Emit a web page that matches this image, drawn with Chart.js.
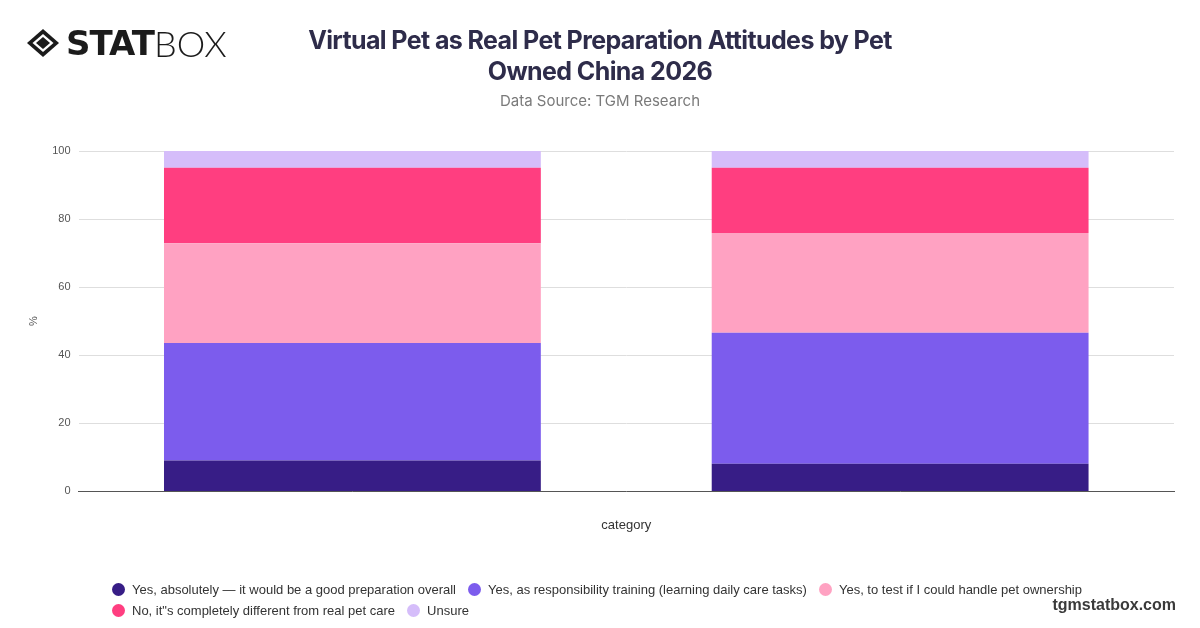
<!DOCTYPE html>
<html>
<head>
<meta charset="utf-8">
<script src="https://cdn.jsdelivr.net/npm/chart.js@4"></script>
<style>
  html, body { margin: 0; padding: 0; background: #fff; }
  #wrap { position: relative; width: 1200px; height: 628px; overflow: hidden; font-family: "Liberation Sans", Arial, sans-serif; }
  #chart { position: absolute; left: 0; top: 0; }
  .logo { position: absolute; left: 26px; top: 21px; display: flex; align-items: center; }
  .logo .stat { font-family: "DejaVu Sans", sans-serif; font-weight: 900; font-size: 34px; letter-spacing: -1px; color: #1b1b1b; margin-left: 6px; }
  .logo .box { font-family: Lato, sans-serif; font-weight: 300; font-size: 36px; color: #1b1b1b; }
  .title { position: absolute; left: 0; width: 1200px; top: 25px; text-align: center; font-family: Inter, sans-serif; font-weight: 700; font-size: 25px; line-height: 31px; color: #2e2c4a; letter-spacing: -0.6px; }
  .subtitle { position: absolute; left: 0; width: 1200px; top: 91px; text-align: center; font-family: Inter, sans-serif; font-size: 15px; color: #7a7a7a; }
  #legend { position: absolute; left: 112px; top: 579px; width: 1060px; font-size: 13px; color: #333; white-space: nowrap; }
  #legend .item { display: inline-flex; align-items: center; margin-right: 12px; height: 21px; }
  #legend .dot { width: 13px; height: 13px; border-radius: 50%; margin-right: 7px; }
  .brand { position: absolute; right: 24px; top: 596px; font-family: "Liberation Sans", Arial, sans-serif; font-weight: 700; font-size: 16px; color: #3a3a3a; }
</style>
</head>
<body>
<div id="wrap">
  <canvas id="chart" width="1200" height="628"></canvas>
  <div class="logo">
    <svg width="34" height="30" viewBox="0 0 34 30">
      <polygon points="17,1 33,15 17,29 1,15" fill="#1b1b1b"/>
      <polygon points="17,6 27.5,15 17,24 6.5,15" fill="#fff"/>
      <polygon points="17,9 24,15 17,21 10,15" fill="#1b1b1b"/>
    </svg>
    <span class="stat">STAT</span><span class="box">BOX</span>
  </div>
  <div class="title">Virtual Pet as Real Pet Preparation Attitudes by Pet<br>Owned China 2026</div>
  <div class="subtitle">Data Source: TGM Research</div>
  <div id="legend"></div>
  <div class="brand">tgmstatbox.com</div>
</div>
<script>
const categories = ["", ""];
const seriesNames = [
  "Yes, absolutely \u2014 it would be a good preparation overall",
  "Yes, as responsibility training (learning daily care tasks)",
  "Yes, to test if I could handle pet ownership",
  "No, it\"s completely different from real pet care",
  "Unsure"
];
const absolutely = [9.1, 8.1];
const responsibility = [34.5, 38.5];
const testOwnership = [29.3, 29.3];
const different = [22.2, 19.2];
const unsure = [4.9, 4.9];
const colors = ["#371d86", "#7c5ced", "#ffa2c2", "#ff3e80", "#d5bdfa"];
const yTicks = [0, 20, 40, 60, 80, 100];

const values = [absolutely, responsibility, testOwnership, different, unsure];

const datasets = values.map((data, i) => ({
  label: seriesNames[i],
  data: data,
  backgroundColor: colors[i],
  borderWidth: 0,
  barPercentage: 0.86,
  categoryPercentage: 0.8,
}));

new Chart(document.getElementById("chart").getContext("2d"), {
  type: "bar",
  data: { labels: categories, datasets: datasets },
  options: {
    responsive: false,
    animation: false,
    layout: { padding: { left: 23, right: 26, top: 151, bottom: 91 } },
    plugins: { legend: { display: false }, tooltip: { enabled: false } },
    scales: {
      x: {
        stacked: true,
        grid: { display: false },
        border: { color: "#555", width: 1 },
        ticks: { display: false },
        title: { display: true, text: "category", color: "#333", font: { size: 13, family: "Liberation Sans" }, padding: { top: 18 } }
      },
      y: {
        stacked: true,
        min: 0,
        max: 100,
        afterBuildTicks: (axis) => { axis.ticks = yTicks.map(v => ({ value: v })); },
        grid: { color: "#dedede", drawTicks: false },
        border: { display: false },
        ticks: { color: "#555", font: { size: 11, family: "Liberation Sans" }, padding: 8 },
        title: { display: true, text: "%", color: "#555", font: { size: 11, family: "Liberation Sans" } }
      }
    }
  }
});

const legend = document.getElementById("legend");
seriesNames.forEach((name, i) => {
  const item = document.createElement("span");
  item.className = "item";
  const dot = document.createElement("span");
  dot.className = "dot";
  dot.style.background = colors[i];
  item.appendChild(dot);
  item.appendChild(document.createTextNode(name));
  legend.appendChild(item);
  if (i === 2) legend.appendChild(document.createElement("br"));
});
</script>
</body>
</html>
